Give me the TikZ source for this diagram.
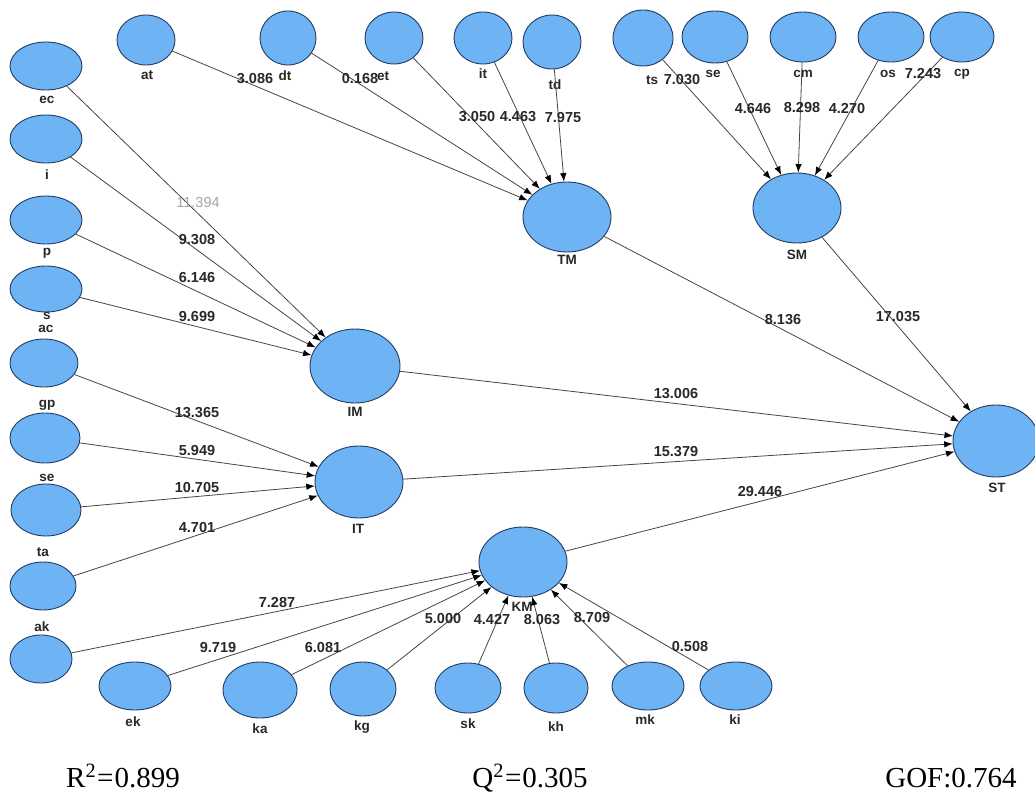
\documentclass[tikz,border=0pt]{standalone}
\usepackage{fontspec}
\setmainfont{Liberation Serif}
\setsansfont{Liberation Sans}
\usetikzlibrary{shapes.geometric,arrows.meta}
\definecolor{nodefill}{RGB}{110,180,245}
\definecolor{nodeline}{RGB}{35,60,100}
\definecolor{edgecol}{RGB}{70,70,70}
\definecolor{txt}{RGB}{40,40,40}
\begin{document}
\begin{tikzpicture}[x=1pt,y=-1pt,
  lv/.style 2 args={ellipse,draw=nodeline,fill=nodefill,line width=0.9pt,inner sep=0pt,minimum width=#1,minimum height=#2},
  nm/.style={font=\sffamily\bfseries\fontsize{13.5}{14}\selectfont,text=txt,inner sep=0pt},
  val/.style={font=\sffamily\bfseries\fontsize{14.5}{15}\selectfont,text=txt,inner sep=0pt},
  valg/.style={font=\sffamily\fontsize{14.5}{15}\selectfont,text=gray!70,inner sep=0pt},
  arr/.style={draw=edgecol,line width=0.8pt,-{Latex[length=8.5pt,width=6.5pt,color=black]}},
  stat/.style={font=\fontsize{29}{31}\selectfont,anchor=base,inner sep=0pt}]
\useasboundingbox (0,0) rectangle (1035,799);
\fill[white] (0,0) rectangle (1035,799);
% top indicators
\node[lv={58pt}{50pt}] (at) at (146,40) {};
\node[lv={56pt}{54pt}] (dt) at (288,38) {};
\node[lv={58pt}{52pt}] (et) at (394,38) {};
\node[lv={58pt}{52pt}] (it) at (483,38) {};
\node[lv={58pt}{54pt}] (td) at (552,42) {};
\node[lv={60pt}{56pt}] (ts) at (643,38) {};
\node[lv={66pt}{52pt}] (se2) at (715,37) {};
\node[lv={66pt}{50pt}] (cm) at (803,37) {};
\node[lv={66pt}{50pt}] (os) at (891,37) {};
\node[lv={64pt}{50pt}] (cp) at (962,37) {};
\node[nm] (tat) at (147,75) {at};
\node[nm] (tdt) at (285,76) {dt};
\node[nm] (tet) at (383,76) {et};
\node[nm] (tit) at (483,74) {it};
\node[nm] (ttd) at (555,85) {td};
\node[nm] (tts) at (652,80) {ts};
\node[nm] (tse2) at (713,74) {se};
\node[nm] (tcm) at (803,74) {cm};
\node[nm] (tos) at (888,74) {os};
\node[nm] (tcp) at (962,74) {cp};
% constructs
\node[lv={88pt}{70pt}] (TM) at (567,217) {};
\node[lv={88pt}{70pt}] (SM) at (797,208) {};
\node[lv={90pt}{74pt}] (IM) at (355,366) {};
\node[lv={88pt}{72pt}] (IT) at (359,482) {};
\node[lv={88pt}{70pt}] (KM) at (523,562) {};
\node[lv={86pt}{72pt}] (ST) at (996,441) {};
\node[nm] (tTM) at (567,260) {TM};
\node[nm] (tSM) at (797,255) {SM};
\node[nm] (tIM) at (355,412) {IM};
\node[nm] (tIT) at (358,529) {IT};
\node[nm] (tKM) at (522,607) {KM};
\node[nm] (tST) at (997,488) {ST};
% left indicators
\node[lv={72pt}{48pt}] (L1) at (46,66) {};
\node[lv={72pt}{48pt}] (L2) at (46,139) {};
\node[lv={72pt}{48pt}] (L3) at (46,220) {};
\node[lv={72pt}{46pt}] (L4) at (46,289) {};
\node[lv={68pt}{48pt}] (L5) at (44,363) {};
\node[lv={70pt}{50pt}] (L6) at (45,438) {};
\node[lv={70pt}{52pt}] (L7) at (46,510) {};
\node[lv={66pt}{48pt}] (L8) at (43,586) {};
\node[lv={62pt}{48pt}] (L9) at (41,659) {};
\node[nm] (tec) at (47,100) {ec};
\node[nm] (ti) at (47,175) {i};
\node[nm] (tp) at (47,253) {p};
\node[nm] (ts4) at (47,316) {s};
\node[nm] (tac) at (46,329) {ac};
\node[nm] (tgp) at (47,405) {gp};
\node[nm] (tse) at (47,478) {se};
\node[nm] (tta) at (43,552) {ta};
\node[nm] (tak) at (42,627) {ak};
% bottom indicators
\node[lv={72pt}{48pt}] (ek) at (135,686) {};
\node[lv={74pt}{56pt}] (ka) at (260,690) {};
\node[lv={66pt}{54pt}] (kg) at (363,689) {};
\node[lv={66pt}{50pt}] (sk) at (468,688) {};
\node[lv={64pt}{50pt}] (kh) at (556,688) {};
\node[lv={72pt}{48pt}] (mk) at (648,686) {};
\node[lv={72pt}{48pt}] (ki) at (736,686) {};
\node[nm] (tek) at (133,722) {ek};
\node[nm] (tka) at (260,729) {ka};
\node[nm] (tkg) at (362,727) {kg};
\node[nm] (tsk) at (468,724) {sk};
\node[nm] (tkh) at (556,727) {kh};
\node[nm] (tmk) at (645,720) {mk};
\node[nm] (tki) at (735,720) {ki};
% connectors
\draw[arr] (at) -- (TM);
\draw[arr] (dt) -- (TM);
\draw[arr] (et) -- (TM);
\draw[arr] (it) -- (TM);
\draw[arr] (td) -- (TM);
\draw[arr] (ts) -- (SM);
\draw[arr] (se2) -- (SM);
\draw[arr] (cm) -- (SM);
\draw[arr] (os) -- (SM);
\draw[arr] (cp) -- (SM);
\draw[arr] (L1) -- (IM);
\draw[arr] (L2) -- (IM);
\draw[arr] (L3) -- (IM);
\draw[arr] (L4) -- (IM);
\draw[arr] (L5) -- (IT);
\draw[arr] (L6) -- (IT);
\draw[arr] (L7) -- (IT);
\draw[arr] (L8) -- (IT);
\draw[arr] (L9) -- (KM);
\draw[arr] (ek) -- (KM);
\draw[arr] (ka) -- (KM);
\draw[arr] (kg) -- (KM);
\draw[arr] (sk) -- (KM);
\draw[arr] (kh) -- (KM);
\draw[arr] (mk) -- (KM);
\draw[arr] (ki) -- (KM);
\draw[arr] (TM) -- (ST);
\draw[arr] (SM) -- (ST);
\draw[arr] (IM) -- (ST);
\draw[arr] (IT) -- (ST);
\draw[arr] (KM) -- (ST);
% values
\node[val] (v1) at (255,79) {3.086};
\node[val] (v2) at (360,79) {0.168};
\node[val] (v3) at (477,117) {3.050};
\node[val] (v4) at (518,117) {4.463};
\node[val] (v5) at (563,118) {7.975};
\node[val] (v6) at (682,80) {7.030};
\node[val] (v7) at (753,109) {4.646};
\node[val] (v8) at (802,108) {8.298};
\node[val] (v9) at (847,109) {4.270};
\node[val] (v10) at (923,74) {7.243};
\node[valg] (v11) at (198,203) {11.394};
\node[val] (v12) at (197,240) {9.308};
\node[val] (v13) at (197,278) {6.146};
\node[val] (v14) at (197,317) {9.699};
\node[val] (v15) at (197,413) {13.365};
\node[val] (v16) at (197,451) {5.949};
\node[val] (v17) at (197,488) {10.705};
\node[val] (v18) at (197,528) {4.701};
\node[val] (v19) at (277,603) {7.287};
\node[val] (v20) at (218,648) {9.719};
\node[val] (v21) at (323,648) {6.081};
\node[val] (v22) at (443,619) {5.000};
\node[val] (v23) at (492,619) {4.427};
\node[val] (v24) at (542,620) {8.063};
\node[val] (v25) at (592,618) {8.709};
\node[val] (v26) at (690,647) {0.508};
\node[val] (v27) at (783,320) {8.136};
\node[val] (v28) at (898,317) {17.035};
\node[val] (v29) at (676,394) {13.006};
\node[val] (v30) at (676,452) {15.379};
\node[val] (v31) at (760,492) {29.446};
% statistics
\node[stat] (r2) at (123,787) {R\textsuperscript{2}\kern1pt=\kern1pt0.899};
\node[stat] (q2) at (530,787) {Q\textsuperscript{2}\kern1pt=\kern1pt0.305};
\node[stat] (gof) at (951,787) {GOF:0.764};
\end{tikzpicture}
\end{document}
